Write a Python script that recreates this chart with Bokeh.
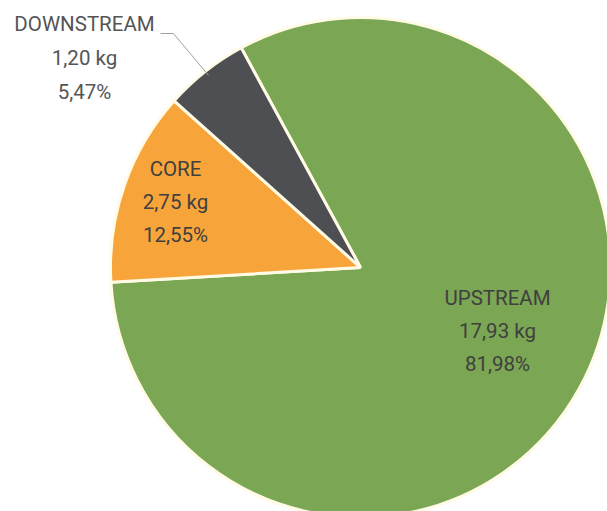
import numpy as np
from bokeh.plotting import figure
from bokeh.models import Range1d
from bokeh.core.properties import value
from bokeh.embed import file_html
from bokeh.resources import INLINE

# ---- data ----
categories = ["UPSTREAM", "CORE", "DOWNSTREAM"]
kg_values = [17.93, 2.75, 1.20]
pct_values = [81.98, 12.55, 5.47]
colors = ["#7ba653", "#f7a53b", "#4d4f53"]

# ---- layout (screen pixels) ----
W, H = 607, 511
CX, CY, R = 360, 244, 250          # centre & radius in plot pixels
START_DEG = 118.5                  # first slice starts here, clockwise
FONT = value("Roboto")
FSIZE = value("20.5px")

def fmt(v):
    return f"{v:.2f}".replace(".", ",")

p = figure(width=W, height=H, x_range=Range1d(0, W), y_range=Range1d(0, H),
           output_backend="svg", toolbar_location=None,
           x_axis_type=None, y_axis_type=None, min_border=0)
p.grid.visible = False
p.outline_line_color = None
p.background_fill_color = "white"
p.border_fill_color = "white"

pct = np.array(pct_values)
cum = np.concatenate([[0], np.cumsum(pct)])
starts = np.deg2rad(START_DEG - cum[:-1] * 3.6)
ends = np.deg2rad(START_DEG - cum[1:] * 3.6)

p.wedge(x=CX, y=CY, radius=R, start_angle=starts, end_angle=ends,
        direction="clock", fill_color=colors, line_color="#fffbe6",
        line_width=3)

# label anchors (screen offsets from centre: dx right, dy down) and line gap
label_pos = [(137, 30, 33), (-185, -98.5, 33), (-276, -244, 34)]
label_col = ["#404040", "#404040", "#555555"]
for i, cat in enumerate(categories):
    dx, dy, gap = label_pos[i]
    lines = [cat, f"{fmt(kg_values[i])} kg", f"{fmt(pct_values[i])}%"]
    xs = [CX + dx] * 3
    ys = [CY - dy - k * gap for k in range(3)]
    p.text(x=xs, y=ys, text=lines, text_align="center",
           text_baseline="middle", text_font=FONT, text_font_size=FSIZE,
           text_color=label_col[i])

# leader line for the small slice
mid = (starts[2] + ends[2]) / 2
ex, ey = CX + 0.98 * R * np.cos(mid), CY + 0.98 * R * np.sin(mid)
p.line(x=[CX - 200, CX - 187, ex], y=[CY + 234, CY + 234, ey],
       line_color="#a0a0a0", line_width=1)

open("out.html", "w").write(file_html(p, INLINE))
